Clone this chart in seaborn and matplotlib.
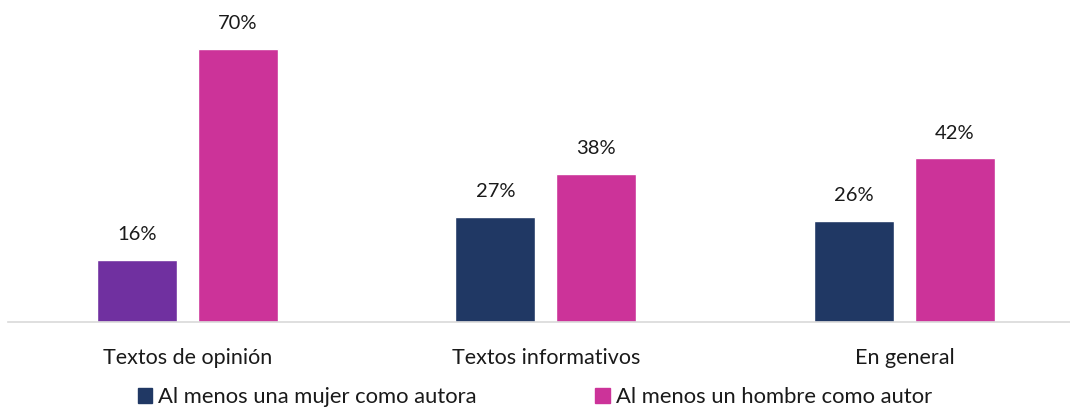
import pandas as pd
import matplotlib.pyplot as plt
import seaborn as sns

categories = ['Textos de opinión', 'Textos informativos', 'En general']
series = ['Al menos una mujer como autora', 'Al menos un hombre como autor']
mujer = [16, 27, 26]
hombre = [70, 38, 42]

df = pd.DataFrame({
    'cat': categories * 2,
    'serie': [series[0]] * 3 + [series[1]] * 3,
    'val': mujer + hombre,
})

navy = '#203864'
pink = '#CC3399'
purple = '#7030A0'

sns.set_theme(style='white')
plt.rcParams['font.family'] = ['Lato', 'DejaVu Sans']

fig = plt.figure(figsize=(10.7, 4.08), dpi=100)
ax = fig.add_axes([8 / 1070, 86 / 408, 1062 / 1070, 322 / 408])
sns.barplot(data=df, x='cat', y='val', hue='serie', order=categories,
            hue_order=series, palette=[navy, pink], width=0.563, gap=0.21,
            saturation=1, ax=ax, legend=False)

# first bar highlighted in purple
ax.containers[0].patches[0].set_facecolor(purple)

for container in ax.containers:
    ax.bar_label(container, labels=[f'{v:.0f}%' for v in container.datavalues],
                 padding=12, fontsize=14.5, color='#1a1a1a')

ax.set_xlim(-0.5, 2.462)
ax.set_ylim(0, 82.6)
ax.set_xlabel('')
ax.set_ylabel('')
ax.set_yticks([])
ax.tick_params(axis='x', labelsize=15.5, colors='#1a1a1a', length=0, pad=19)
for s in ['top', 'right', 'left']:
    ax.spines[s].set_visible(False)
ax.spines['bottom'].set_color('#D9D9D9')
ax.spines['bottom'].set_linewidth(1.2)

handles = [plt.Rectangle((0, 0), 1, 1, color=navy), plt.Rectangle((0, 0), 1, 1, color=pink)]
fig.legend(handles, series, loc='center', bbox_to_anchor=(0.5, 1 - 397 / 408),
           ncol=2, frameon=False, fontsize=15.8, handlelength=0.65, handleheight=0.65,
           handletextpad=0.3, columnspacing=5.4, labelcolor='#1a1a1a')

fig.savefig('out.png', dpi=100)
